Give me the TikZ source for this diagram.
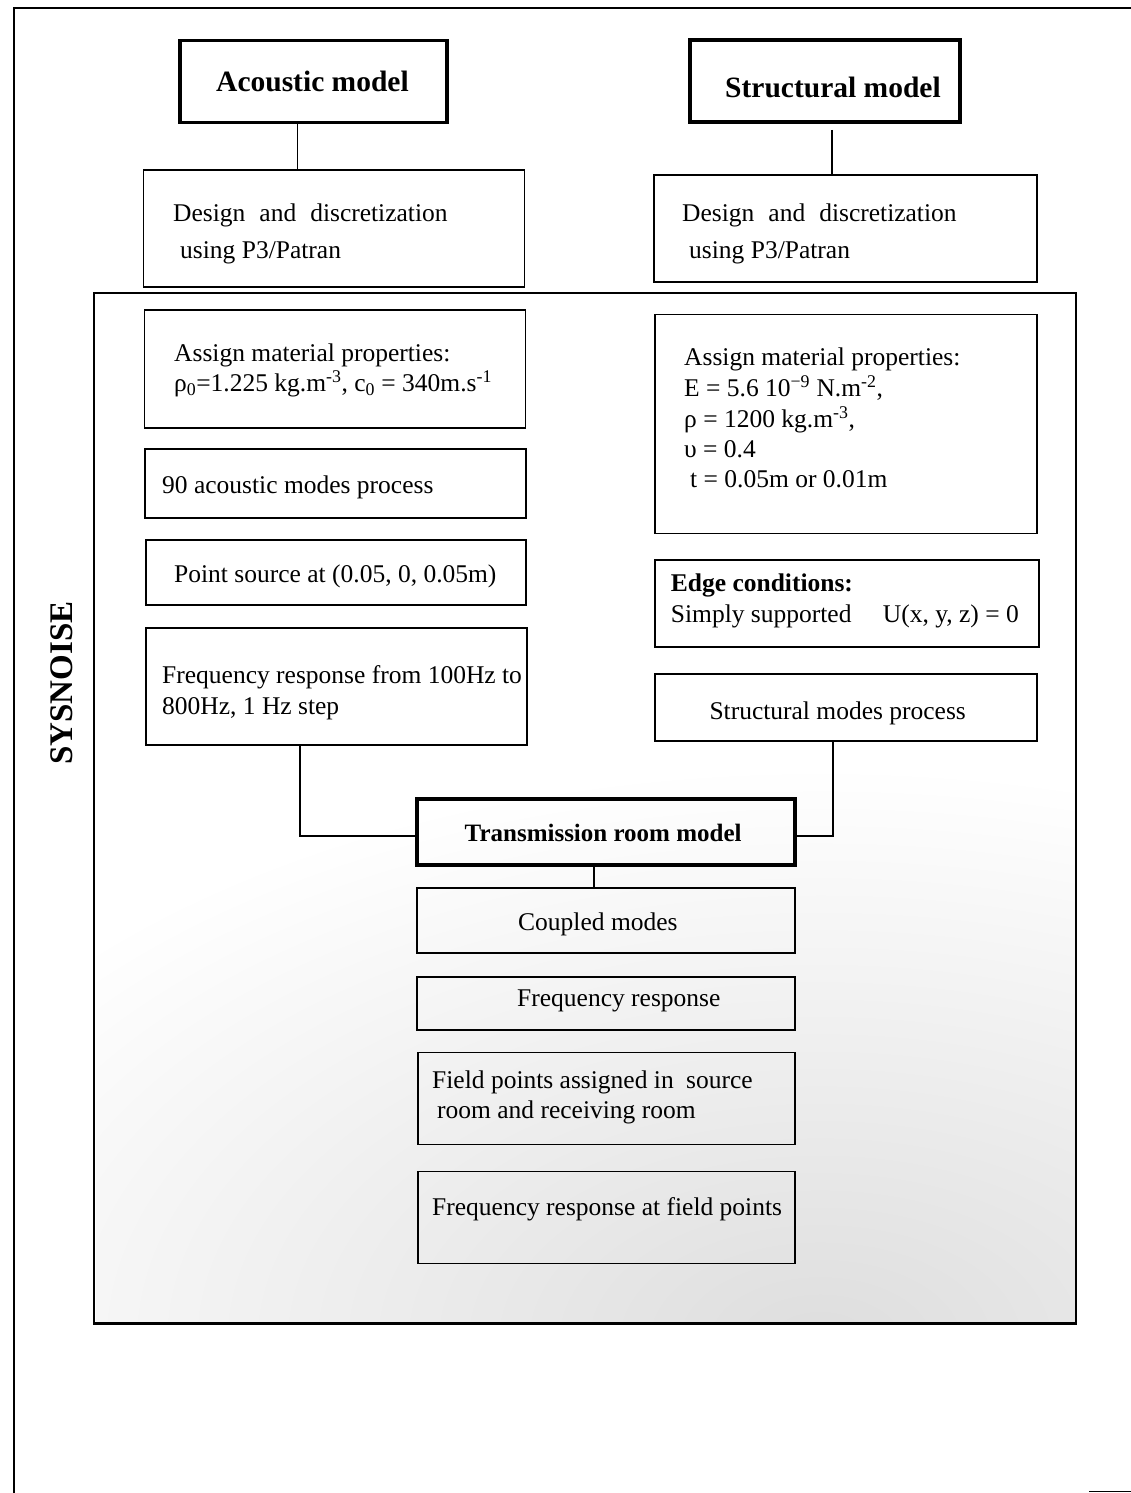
\documentclass[tikz,border=0pt]{standalone}
\usepackage{fontspec}
\setmainfont{Liberation Serif}
\begin{document}
\begin{tikzpicture}[x=1pt,y=-1pt,
  box/.style={draw, line width=1.8pt, inner sep=0pt},
  thickbox/.style={draw, line width=3.6pt, inner sep=0pt},
  txt/.style={anchor=base west, inner sep=0pt, font=\fontsize{25.5}{30}\selectfont},
  ttl/.style={anchor=base west, inner sep=0pt, font=\fontsize{29.5}{34}\selectfont\bfseries},
  link/.style={line width=1.8pt}]
\useasboundingbox (0,0) rectangle (1131,1493);
% background texture approximation
\begin{scope}
  \clip (96,296) rectangle (1076,1323);
  \shade[inner color=black!13, outer color=white] (820,1340) ellipse (1000 and 575);
\end{scope}
% page frame
\draw[line width=1.8pt] (14,1493) -- (14,8) -- (1131,8);
\draw[line width=1.5pt] (1089,1491.5) -- (1131,1491.5);
% top models
\node[thickbox, minimum width=267pt, minimum height=82pt] (am) at (313.5,81.5) {};
\node[thickbox, minimum width=270pt, minimum height=82pt] (sm) at (825,81) {};
\node[ttl] (amt) at (216,91.7) {Acoustic model};
\node[ttl] (smt) at (725,97.7) {Structural model};
% design boxes
\node[box, minimum width=381pt, minimum height=117pt] (dl) at (334,228.5) {};
\node[box, minimum width=383pt, minimum height=107pt] (dr) at (845.5,228.5) {};
\node[txt] (dl1) at (173,221.7) {Design\hspace{14pt}and\hspace{14pt}discretization};
\node[txt] (dl2) at (180,258) {using P3/Patran};
\node[txt] (dr1) at (682,221.7) {Design\hspace{14pt}and\hspace{14pt}discretization};
\node[txt] (dr2) at (689,258) {using P3/Patran};
\draw[link] ([xshift=-16pt]am.south) -- ([xshift=-16pt]am.south |- dl.north);
\draw[link] ([xshift=7pt,yshift=-6pt]sm.south) -- ([xshift=7pt]sm.south |- dr.north);
% SYSNOISE frame
\node[box, minimum width=982pt, minimum height=1030pt] (sysbox) at (585,808) {};
\draw[line width=3pt] (sysbox.south west) -- (sysbox.south east);
\node[rotate=90, inner sep=0pt, font=\fontsize{33}{38}\selectfont\bfseries] (sys) at (62,683) {SYSNOISE};
% left column
\node[box, minimum width=381pt, minimum height=118pt] (la) at (335,369) {};
\node[txt] (la1) at (174,361.7) {Assign material properties:};
\node[txt] (la2) at (174,391.7) {ρ\textsubscript{0}=1.225 kg.m\textsuperscript{-3}, c\textsubscript{0} = 340m.s\textsuperscript{-1}};
\node[box, minimum width=381pt, minimum height=69pt] (lm) at (335.5,483.5) {};
\node[txt] (lm1) at (162,493) {90 acoustic modes process};
\node[box, minimum width=380pt, minimum height=65pt] (lp) at (336,572.5) {};
\node[txt] (lp1) at (174,582.7) {Point source at (0.05, 0, 0.05m)};
\node[box, minimum width=381pt, minimum height=117pt] (lf) at (336.5,686.5) {};
\node[txt] (lf1) at (162,683.3) {Frequency response from 100Hz to};
\node[txt] (lf2) at (162,714.3) {800Hz, 1 Hz step};
% right column
\node[box, minimum width=382pt, minimum height=219pt] (ra) at (846,424) {};
\node[txt] (ra1) at (684,365.7) {Assign material properties:};
\node[txt] (ra2) at (684,396.7) {E = 5.6 10\textsuperscript{−9} N.m\textsuperscript{-2},};
\node[txt] (ra3) at (684,427.7) {ρ = 1200 kg.m\textsuperscript{-3},};
\node[txt] (ra4) at (684,457.7) {υ = 0.4};
\node[txt] (ra5) at (690,487.7) {t = 0.05m or 0.01m};
\node[box, minimum width=384pt, minimum height=87pt] (re) at (847,603.5) {};
\node[txt, font=\fontsize{25.5}{30}\selectfont\bfseries] (re1) at (670.7,591.7) {Edge conditions:};
\node[txt] (re2) at (670.7,622.7) {Simply supported};
\node[txt] (re3) at (882.7,622.7) {U(x, y, z) = 0};
\node[box, minimum width=382pt, minimum height=67pt] (rs) at (846,707.5) {};
\node[txt] (rs1) at (709.3,719.3) {Structural modes process};
% central column
\node[thickbox, minimum width=378pt, minimum height=66pt] (tr) at (606,832) {};
\node[txt, font=\fontsize{25}{30}\selectfont\bfseries] (trt) at (464.5,841) {Transmission room model};
\node[box, minimum width=378pt, minimum height=65pt] (cm) at (606,920.5) {};
\node[txt] (cmt) at (518,930.7) {Coupled modes};
\node[box, minimum width=378pt, minimum height=53pt] (fr) at (606,1003.5) {};
\node[txt] (frt) at (517,1006.7) {Frequency response};
\node[box, minimum width=377pt, minimum height=92pt] (fp) at (606.5,1098.5) {};
\node[txt] (fp1) at (432,1088.3) {Field points assigned in\hspace{6pt} source};
\node[txt] (fp2) at (437,1118.3) {room and receiving room};
\node[box, minimum width=377pt, minimum height=92pt] (ff) at (606.5,1217.5) {};
\node[txt] (fft) at (432,1215) {Frequency response at field points};
% connectors
\draw[link] ([xshift=-36.5pt]lf.south) |- ([yshift=-4pt]tr.west);
\draw[link] ([xshift=-13pt]rs.south) |- ([yshift=-4pt]tr.east);
\draw[link] ([xshift=-12pt]tr.south) -- ([xshift=-12pt]tr.south |- cm.north);
\end{tikzpicture}
\end{document}
